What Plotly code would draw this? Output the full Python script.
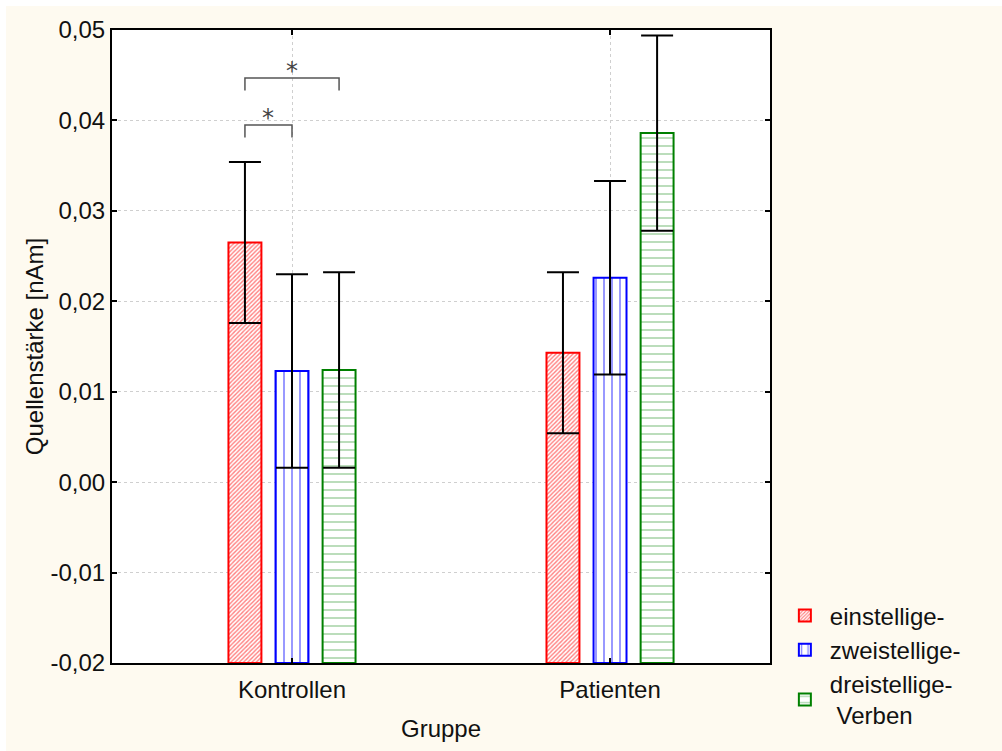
import numpy as np
import plotly.graph_objects as go

# ---- data ----
groups = ["Kontrollen", "Patienten"]
series_names = ["einstellige-", "zweistellige-", "dreistellige-<br> Verben"]
einstellige = [0.0265, 0.0143]
zweistellige = [0.0123, 0.0226]
dreistellige = [0.0124, 0.0386]
err_einstellige = [0.0089, 0.0089]
err_zweistellige = [0.0107, 0.0107]
err_dreistellige = [0.0108, 0.0108]
y_ticks = [-0.02, -0.01, 0.0, 0.01, 0.02, 0.03, 0.04, 0.05]
y_tick_labels = ["-0,02", "-0,01", "0,00", "0,01", "0,02", "0,03", "0,04", "0,05"]

YMIN, YMAX = -0.02, 0.05

colors = ["#FF0000", "#0000FF", "#008000"]
pattern_fg = ["#FF0000", "#0000FF", "rgba(0,128,0,0.6)"]
shapes_pat = ["/", "|", "-"]
pat_size = [3, 8, 8]
pat_sol = [0.45, 0.2, 0.22]

values = [einstellige, zweistellige, dreistellige]
errors = [err_einstellige, err_zweistellige, err_dreistellige]

x_pos = np.arange(len(groups))
FONT = "Liberation Sans, Arial, sans-serif"
FS = 24

fig = go.Figure()
for i in range(3):
    v = np.array(values[i])
    fig.add_trace(go.Bar(
        x=x_pos, y=v - YMIN, base=YMIN, name=series_names[i],
        marker=dict(color="white", line=dict(color=colors[i], width=2),
                    pattern=dict(shape=shapes_pat[i], fgcolor=pattern_fg[i],
                                 bgcolor="white", size=pat_size[i],
                                 solidity=pat_sol[i], fillmode="overlay")),
        error_y=dict(type="data", array=errors[i], visible=True,
                     color="black", thickness=2, width=16),
    ))

# significance brackets (within Kontrollen group: bar index pairs, height)
slot = 1 - 0.556
offs = [(-1 + k) * slot / 3 for k in range(3)]
brackets = [(0, 2, 0.0447, 0.0433), (0, 1, 0.0395, 0.0381)]
for a, b, ytop, yleg in brackets:
    xa, xb = offs[a], offs[b]
    fig.add_shape(type="path",
                  path=f"M {xa},{yleg} L {xa},{ytop} L {xb},{ytop} L {xb},{yleg}",
                  xref="x", yref="y", line=dict(color="#555555", width=1.5))
    fig.add_annotation(x=(xa + xb) / 2, y=ytop, text="*", showarrow=False,
                       yanchor="bottom", yshift=-9,
                       font=dict(size=24, color="#444444", family="DejaVu Sans"))

# white strips at top/left of page
W, H = 1002, 751
ml, mr, mt, mb = 112, 232, 30, 88
pw, ph = W - ml - mr, H - mt - mb
def px_x(p):
    return (p - ml) / pw
def px_y(p):
    return (H - mb - p) / ph
fig.add_shape(type="rect", xref="paper", yref="paper", layer="below",
              x0=px_x(0), x1=px_x(W), y0=px_y(6), y1=px_y(0),
              fillcolor="white", line=dict(width=0))
fig.add_shape(type="rect", xref="paper", yref="paper", layer="below",
              x0=px_x(0), x1=px_x(6), y0=px_y(H), y1=px_y(0),
              fillcolor="white", line=dict(width=0))

tf = dict(family=FONT, size=FS, color="#111")
fig.update_layout(
    width=W, height=H,
    margin=dict(l=ml, r=mr, t=mt, b=mb),
    paper_bgcolor="#FEFAF0", plot_bgcolor="white",
    barmode="group", bargap=0.556, bargroupgap=0.30,
    font=tf,
    showlegend=True,
    legend=dict(x=1.015, y=0.11, xanchor="left", yanchor="top",
                bgcolor="rgba(0,0,0,0)", font=tf,
                tracegroupgap=0, itemwidth=40),
    xaxis=dict(range=[-0.566, 1.503], tickvals=x_pos, ticktext=groups,
               tickfont=tf, ticklabelstandoff=4,
               showline=True, linecolor="black", linewidth=2, mirror="ticks",
               ticks="inside", ticklen=5, tickcolor="black", tickwidth=2,
               showgrid=True, gridcolor="#CFCFCF", griddash="dot", gridwidth=1,
               zeroline=False,
               title=dict(text="Gruppe", standoff=18, font=tf)),
    yaxis=dict(range=[YMIN, YMAX], tickvals=y_ticks, ticktext=y_tick_labels,
               tickfont=tf,
               showline=True, linecolor="black", linewidth=2, mirror="ticks",
               ticks="inside", ticklen=5, tickcolor="black", tickwidth=2,
               showgrid=True, gridcolor="#CFCFCF", griddash="dot", gridwidth=1,
               zeroline=False,
               title=dict(text="Quellenstärke [nAm]", standoff=0, font=tf)),
)

fig.write_html("out.html")
